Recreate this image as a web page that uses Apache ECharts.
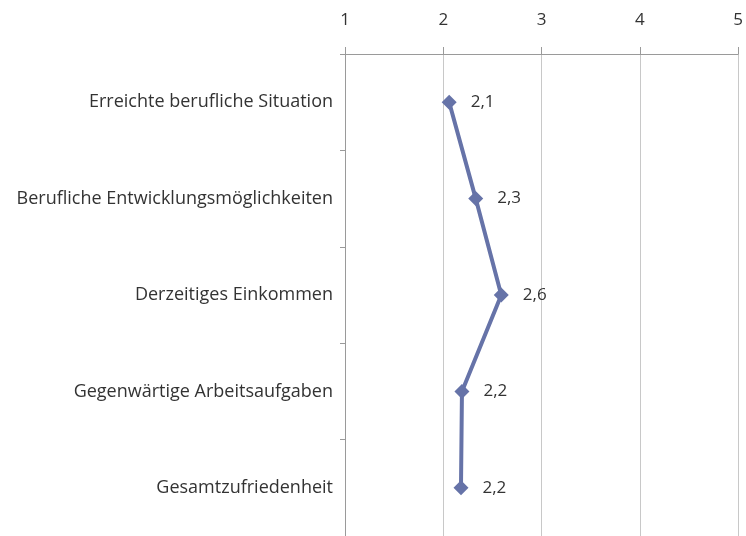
<!DOCTYPE html>
<html><head><meta charset="utf-8">
<script src="https://cdn.jsdelivr.net/npm/echarts@6/dist/echarts.min.js"></script>
<style>html,body{margin:0;padding:0;background:#fff}#c{width:746px;height:536px}</style>
</head><body><div id="c"></div>
<script>
const categories = ["Erreichte berufliche Situation","Berufliche Entwicklungsmöglichkeiten","Derzeitiges Einkommen","Gegenwärtige Arbeitsaufgaben","Gesamtzufriedenheit"];
const values = [2.06, 2.33, 2.59, 2.19, 2.18];
const xTicks = [1, 2, 3, 4, 5];

const chart = echarts.init(document.getElementById('c'));
chart.setOption({
  animation: false,
  grid: {left: 345, right: 4, top: 54, height: 485},
  xAxis: {
    type: 'value', position: 'top', min: xTicks[0], max: xTicks[xTicks.length-1], interval: 1,
    axisLine: {show: true, lineStyle: {color: '#9a9a9a', width: 1}},
    axisTick: {show: true, inside: false, length: 7, lineStyle: {color: '#9a9a9a'}},
    axisLabel: {fontFamily: 'Open Sans', fontSize: 17, color: '#333', margin: 25},
    splitLine: {show: true, lineStyle: {color: '#c8c8c8', width: 1}}
  },
  yAxis: {
    type: 'category', data: categories, inverse: true, boundaryGap: true,
    axisLine: {show: true, lineStyle: {color: '#9a9a9a', width: 1}},
    axisTick: {show: true, length: 5, lineStyle: {color: '#9a9a9a'}},
    axisLabel: {fontFamily: 'Open Sans', fontSize: 18, color: '#333', margin: 12}
  },
  series: [{
    type: 'line', data: values,
    symbol: 'diamond', symbolSize: 15,
    lineStyle: {color: '#6673a8', width: 4},
    itemStyle: {color: '#6673a8'},
    label: {show: true, position: 'right', distance: 14, fontFamily: 'Open Sans', fontSize: 17, color: '#333',
      formatter: p => p.value.toFixed(1).replace('.', ',')}
  }]
});
</script></body></html>
